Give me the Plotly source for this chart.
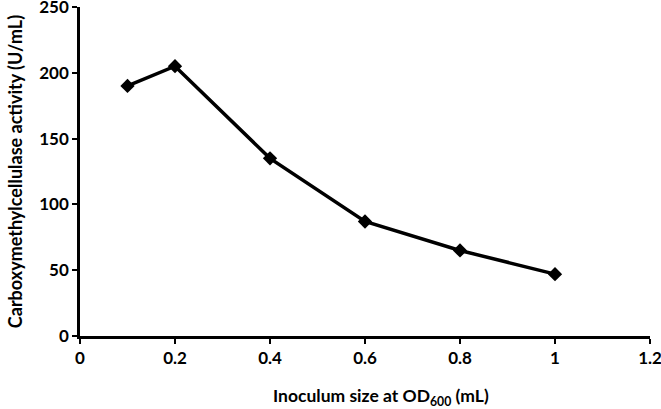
import plotly.graph_objects as go

inoculum_ml = [0.1, 0.2, 0.4, 0.6, 0.8, 1.0]
cmc_activity = [190, 205, 135, 87, 65, 47]
x_ticks = [0, 0.2, 0.4, 0.6, 0.8, 1, 1.2]
x_tick_labels = ["0", "0.2", "0.4", "0.6", "0.8", "1", "1.2"]
y_ticks = [0, 50, 100, 150, 200, 250]
x_title = "Inoculum size at OD<sub>600</sub> (mL)"
y_title = "Carboxymethylcellulase activity (U/mL)"

fig = go.Figure()
fig.add_trace(go.Scatter(
    x=inoculum_ml, y=cmc_activity, mode="lines+markers",
    line=dict(color="black", width=3.5),
    marker=dict(symbol="diamond", size=11, color="black"),
    showlegend=False, cliponaxis=False,
))

font_family = "Lato, Open Sans, sans-serif"
fig.update_layout(
    width=661, height=409,
    margin=dict(l=80, r=11, t=7, b=73),
    paper_bgcolor="white", plot_bgcolor="white",
    font=dict(family=font_family, size=17, color="black"),
)
fig.update_xaxes(
    range=[0, 1.2], tickvals=x_ticks, ticktext=[f"<b>{t}</b>" for t in x_tick_labels],
    showline=True, linecolor="black", linewidth=2.5,
    ticks="outside", ticklen=5, tickwidth=2, tickcolor="black",
    showgrid=False, zeroline=False, automargin=False, ticklabeloverflow="allow",
)
fig.update_yaxes(
    range=[0, 250], tickvals=y_ticks, ticktext=[f"<b>{t}</b>" for t in y_ticks],
    showline=True, linecolor="black", linewidth=2.5,
    ticks="outside", ticklen=5, tickwidth=2, tickcolor="black",
    showgrid=False, zeroline=False, automargin=False, ticklabeloverflow="allow",
    title=dict(text=f"<b>{y_title}</b>", standoff=12, font=dict(size=18)),
)
fig.add_annotation(
    text=f"<b>{x_title}</b>", xref="paper", yref="paper",
    x=(381 - 80) / 570, y=-(397 - 336) / 329, xanchor="center", yanchor="middle",
    showarrow=False, font=dict(size=17.5),
)
fig.write_html("out.html", config={"displayModeBar": False},
               post_script="document.body.style.margin='0px';document.body.style.padding='0px';")
